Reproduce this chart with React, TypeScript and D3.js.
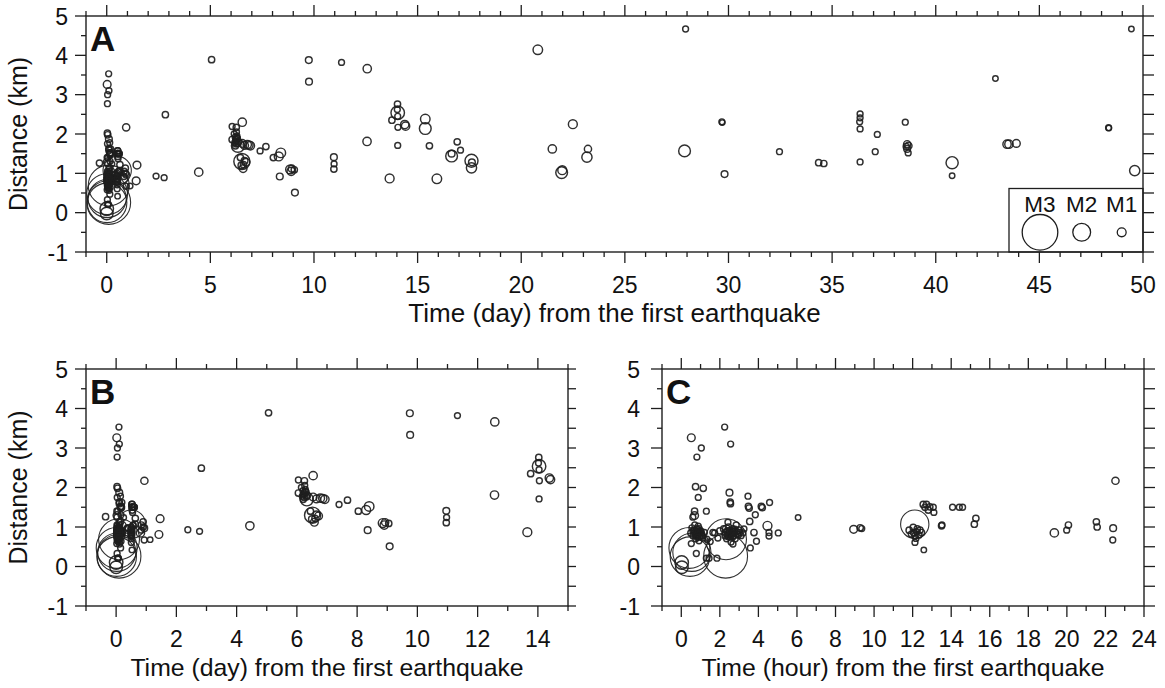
import React from 'react';
import * as d3 from 'd3';

// Events during the first 24 hours: time (hour), distance (km), magnitude
const firstDayHours = [
  0.42, 0.55, 0.45, 2.32, 2.30,
  0.02, 0.03,
  0.52, 1.04, 0.81, 2.25, 2.56, 0.74, 1.14, 0.88, 0.69, 0.69, 0.60, 1.30,
  2.50, 2.54, 2.55, 3.46, 3.48, 3.52, 4.15, 4.20, 4.58, 3.84, 3.55, 4.47,
  4.55, 4.55, 5.03, 3.77, 3.90, 3.58, 6.06, 8.94, 9.28, 9.36,
  0.50, 0.55, 0.62, 0.65, 0.70, 0.72, 0.75, 0.80, 0.80, 0.85, 0.88, 0.90,
  0.92, 0.95, 1.00, 1.05, 1.12, 1.20,
  0.68, 0.78, 0.86, 0.97, 1.08, 0.60, 0.74, 0.83, 0.93, 1.02,
  0.52, 0.78, 1.30, 1.44, 1.85, 1.33, 1.64, 1.50, 1.73,
  1.90, 2.00, 2.20, 2.30, 2.34, 2.35, 2.40, 2.42, 2.45, 2.50, 2.55, 2.58,
  2.60, 2.65, 2.68, 2.70, 2.75, 2.80, 2.85, 2.90, 3.00, 3.10, 3.20, 3.25,
  2.28, 2.38, 2.47, 2.53, 2.62, 2.72, 2.78, 2.88, 2.95, 3.05, 2.44, 2.66,
  11.82, 12.03, 12.11, 12.24, 12.46, 12.12, 12.17, 12.12, 11.94, 12.32, 12.58,
  12.05, 12.20, 12.38,
  12.55, 12.72, 12.89, 13.07, 13.10, 12.81, 12.64,
  13.50, 13.52, 14.07, 14.42, 14.59, 15.28, 15.20,
  19.35, 19.99, 20.08, 21.53, 21.57, 22.40, 22.38, 22.52,
];
const firstDayDist = [
  0.47, 0.36, 0.25, 0.69, 0.26,
  0.10, -0.02,
  3.26, 3.00, 2.77, 3.53, 3.10, 2.02, 1.98, 1.75, 1.40, 1.29, 1.25, 1.40,
  1.87, 1.63, 1.59, 1.78, 1.52, 1.48, 1.52, 1.49, 1.62, 1.31, 1.14, 1.03,
  0.86, 0.77, 0.85, 0.86, 0.64, 0.47, 1.24, 0.94, 0.98, 0.96,
  0.85, 0.98, 0.78, 0.92, 1.05, 0.85, 0.70, 0.95, 0.78, 0.80, 1.02, 0.88,
  0.65, 0.75, 0.90, 0.82, 0.72, 0.86,
  0.88, 0.86, 0.92, 0.84, 0.78, 0.90, 0.80, 0.74, 0.96, 0.88,
  0.58, 0.33, 0.21, 0.21, 0.21, 0.69, 0.86, 0.63, 0.85,
  0.72, 0.90, 0.95, 0.85, 0.95, 0.70, 0.80, 1.12, 1.00, 0.90, 0.75, 0.62,
  0.85, 0.95, 0.57, 0.78, 0.88, 0.70, 1.05, 0.82, 0.92, 0.78, 0.85, 0.95,
  0.78, 0.90, 0.84, 0.80, 0.90, 0.84, 0.94, 0.88, 0.80, 0.86, 0.76, 0.74,
  0.92, 0.99, 1.07, 0.95, 0.86, 0.78, 0.71, 0.61, 0.82, 0.80, 0.42,
  0.86, 0.88, 0.92,
  1.57, 1.57, 1.51, 1.50, 1.37, 1.43, 1.50,
  1.03, 1.05, 1.50, 1.50, 1.50, 1.22, 1.07,
  0.85, 0.92, 1.05, 1.13, 1.00, 0.97, 0.67, 2.17,
];
const firstDayMag = [
  3.2, 3.1, 3.15, 3.2, 3.3,
  1.6, 1.5,
  0.8, 0.4, 0.4, 0.4, 0.4, 0.5, 0.5, 0.4, 0.5, 0.8, 0.4, 0.4,
  0.6, 0.5, 0.5, 0.4, 0.5, 0.5, 0.5, 0.5, 0.4, 0.4, 0.5, 1.0,
  0.4, 0.4, 0.4, 0.5, 0.4, 0.4, 0.3, 0.8, 0.5, 0.4,
  0.5, 0.4, 0.5, 0.4, 0.4, 0.5, 0.4, 0.5, 0.4, 0.5, 0.4, 0.5,
  0.4, 0.5, 0.4, 0.5, 0.4, 0.4,
  0.5, 0.4, 0.5, 0.4, 0.5, 0.4, 0.5, 0.4, 0.4, 0.5,
  0.4, 0.4, 0.4, 0.4, 0.4, 0.4, 0.4, 0.4, 0.4,
  0.4, 0.5, 0.5, 0.6, 0.8, 0.4, 0.5, 0.4, 0.5, 0.6, 0.5, 0.4,
  0.6, 0.5, 0.4, 0.5, 0.5, 0.4, 0.4, 0.5, 0.5, 0.4, 0.4, 0.4,
  0.5, 0.4, 0.5, 0.4, 0.5, 0.4, 0.5, 0.4, 0.5, 0.4, 0.5, 0.4,
  0.5, 0.5, 2.67, 0.5, 0.5, 0.5, 0.4, 0.4, 0.5, 0.5, 0.3,
  0.5, 0.4, 0.5,
  0.5, 0.5, 0.5, 0.4, 0.4, 0.5, 0.5,
  0.5, 0.4, 0.4, 0.4, 0.4, 0.5, 0.5,
  0.9, 0.4, 0.5, 0.5, 0.5, 0.6, 0.4, 0.7,
];

// Remaining events of the sequence: time (day), distance (km), magnitude
const laterDays = [
  -0.35, 1.13, 1.42, 1.46, 2.38, 2.77, 2.83, 4.44, 5.06,
  6.05, 6.25, 6.54, 6.05, 6.15, 6.20, 6.22, 6.25, 6.28, 6.30, 6.18, 6.35, 6.26,
  6.24, 6.32, 6.21, 6.29,
  6.33, 6.54, 6.65, 6.78, 6.86, 6.93, 6.52, 6.50, 6.58, 6.65, 6.72, 6.45, 6.60,
  7.40, 7.68, 8.04, 8.30, 8.40, 8.35, 8.85, 8.90, 8.93, 9.05, 9.08,
  9.75, 9.76, 10.96, 10.97, 10.96, 11.33, 12.57, 12.56, 13.65,
  13.76, 14.03, 14.04, 14.02, 14.04, 14.05, 14.38, 14.42, 14.04,
  15.37, 15.37, 15.57, 15.93, 16.64, 16.64, 16.91, 17.07, 17.60, 17.62, 17.60,
  20.80, 21.50, 21.95, 21.98, 22.49, 23.22, 23.17,
  27.93, 27.88, 29.68, 29.70, 29.81, 32.46, 34.35, 34.60,
  36.35, 36.35, 36.33, 36.35, 36.35, 37.18, 37.08, 38.53,
  38.62, 38.68, 38.62, 38.67, 38.58, 40.79, 40.79, 42.88,
  43.44, 43.53, 43.89, 48.34, 48.35, 49.44, 49.60,
];
const laterDist = [
  1.26, 0.68, 0.81, 1.21, 0.93, 0.89, 2.49, 1.03, 3.89,
  2.19, 2.17, 2.30, 1.86, 2.00, 1.92, 1.82, 1.75, 1.95, 1.88, 1.78, 1.80, 2.05,
  1.85, 1.76, 1.70, 1.90,
  1.70, 1.76, 1.71, 1.73, 1.72, 1.70, 1.30, 1.20, 1.12, 1.32, 1.28, 1.40, 1.22,
  1.57, 1.68, 1.40, 1.43, 1.52, 0.92, 1.10, 1.05, 1.12, 1.09, 0.51,
  3.88, 3.33, 1.41, 1.24, 1.11, 3.82, 3.66, 1.81, 0.87,
  2.35, 2.76, 2.54, 2.62, 2.45, 2.17, 2.24, 2.20, 1.71,
  2.38, 2.14, 1.70, 0.86, 1.44, 1.50, 1.80, 1.59, 1.32, 1.28, 1.14,
  4.14, 1.62, 1.02, 1.08, 2.25, 1.62, 1.41,
  4.67, 1.57, 2.31, 2.29, 0.98, 1.55, 1.27, 1.25,
  2.51, 2.41, 2.31, 2.13, 1.29, 1.99, 1.55, 2.30,
  1.74, 1.70, 1.62, 1.52, 1.68, 1.27, 0.94, 3.41,
  1.74, 1.74, 1.76, 2.16, 2.15, 4.67, 1.07,
];
const laterMag = [
  0.5, 0.3, 0.8, 0.8, 0.4, 0.4, 0.5, 0.9, 0.5,
  0.4, 0.5, 0.9, 0.5, 0.4, 0.4, 0.5, 0.5, 0.4, 0.5, 0.4, 0.5, 0.4,
  0.5, 0.4, 0.5, 0.4,
  1.55, 0.8, 0.8, 0.9, 0.9, 0.9, 1.85, 0.6, 0.8, 0.6, 0.8, 0.5, 0.5,
  0.4, 0.5, 0.5, 1.0, 1.1, 0.6, 1.0, 0.9, 0.7, 0.5, 0.6,
  0.6, 0.6, 0.6, 0.4, 0.5, 0.4, 0.9, 0.9, 1.0,
  0.5, 0.5, 1.6, 0.4, 0.4, 0.4, 0.9, 0.9, 0.4,
  1.1, 1.4, 0.5, 1.1, 1.4, 0.6, 0.5, 0.4, 1.55, 0.6, 1.2,
  1.1, 0.9, 1.4, 1.0, 1.0, 0.7, 1.2,
  0.4, 1.4, 0.4, 0.3, 0.6, 0.4, 0.5, 0.5,
  0.4, 0.4, 0.4, 0.4, 0.4, 0.4, 0.4, 0.4,
  0.7, 0.7, 0.6, 0.4, 0.5, 1.45, 0.3, 0.3,
  0.9, 0.9, 0.8, 0.4, 0.3, 0.3, 1.2,
];

const distanceTicks = [-1, 0, 1, 2, 3, 4, 5];
const legendMags = [3, 2, 1];

const FONT = '"Liberation Sans", Arial, Helvetica, sans-serif';
const INK = '#1e1e1e';

type Quake = { t: number; d: number; m: number };

const radius = (m: number) => 4.45 * Math.pow(2, m - 1);

type PanelCfg = {
  id: string;
  left: number; right: number; top: number; bottom: number;
  xDomain: [number, number];
  major: number;
  unit: 'day' | 'hour';
  yLabelGap: number;
  rightTick: number;
  yTitle: boolean;
  legend: boolean;
  titleSize: number;
};

const panels: PanelCfg[] = [
  { id: 'A', left: 86, right: 1143, top: 16, bottom: 252, xDomain: [-1, 50], major: 5, unit: 'day', yLabelGap: 18, rightTick: 11, yTitle: true, legend: true, titleSize: 26 },
  { id: 'B', left: 86, right: 568, top: 369, bottom: 606, xDomain: [-1, 15], major: 2, unit: 'day', yLabelGap: 18, rightTick: 8, yTitle: true, legend: false, titleSize: 24.8 },
  { id: 'C', left: 662, right: 1144, top: 369, bottom: 606, xDomain: [-1, 24], major: 2, unit: 'hour', yLabelGap: 22, rightTick: 11, yTitle: false, legend: false, titleSize: 24.8 },
];

function quakesFor(unit: 'day' | 'hour'): Quake[] {
  const early = firstDayHours.map((h, i) => ({
    t: unit === 'day' ? h / 24 : h, d: firstDayDist[i], m: firstDayMag[i],
  }));
  const late = laterDays.map((t, i) => ({
    t: unit === 'day' ? t : t * 24, d: laterDist[i], m: laterMag[i],
  }));
  // larger events first so small ones stay visible on top
  return [...early, ...late].sort((a, b) => b.m - a.m);
}

function Panel({ cfg }: { cfg: PanelCfg }) {
  const x = d3.scaleLinear().domain(cfg.xDomain).range([cfg.left, cfg.right]);
  const y = d3.scaleLinear().domain([-1, 5]).range([cfg.bottom, cfg.top]);
  const [x0, x1] = cfg.xDomain;
  const majorX = d3.range(0, x1 + 1e-6, cfg.major);
  const minorX = d3.range(x0, x1 + 1e-6, 1).filter((v) => !majorX.some((m) => Math.abs(m - v) < 1e-6));
  const minorY = d3.range(-0.5, 5, 1);
  const allY = d3.range(-1, 5.0001, 0.5);
  const quakes = quakesFor(cfg.unit).filter((q) => q.t >= x0 && q.t <= x1 + 0.3);
  const clipId = `clip-${cfg.id}`;
  const majorLen = 11;
  const minorLen = 5;
  const title = cfg.unit === 'day' ? 'Time (day) from the first earthquake' : 'Time (hour) from the first earthquake';
  const cx = (cfg.left + cfg.right) / 2;
  const cy = (cfg.top + cfg.bottom) / 2;

  const legendX = d3.scaleOrdinal<number, number>().domain(legendMags).range([1040, 1081.7, 1121.7]);

  return (
    <g>
      <defs>
        <clipPath id={clipId}>
          <rect x={cfg.left} y={cfg.top} width={cfg.right - cfg.left} height={cfg.bottom - cfg.top} />
        </clipPath>
      </defs>

      <g clipPath={`url(#${clipId})`} fill="none" stroke={INK} strokeWidth={1.45} strokeOpacity={0.92}>
        {quakes.map((q, i) => (
          <circle key={i} cx={x(q.t)} cy={y(q.d)} r={radius(q.m)} strokeWidth={q.m > 2.5 ? 1.1 : 1.45} />
        ))}
      </g>

      {cfg.legend && (
        <g>
          <rect x={1009} y={188.5} width={cfg.right - 1009} height={cfg.bottom - 188.5} fill="#fff" stroke={INK} strokeWidth={1.3} />
          {legendMags.map((m) => (
            <g key={m}>
              <text x={legendX(m)} y={212} textAnchor="middle" fontSize={22.5} fontFamily={FONT} fill="#111">{`M${m}`}</text>
              <circle cx={legendX(m)} cy={232.3} r={radius(m)} fill="none" stroke={INK} strokeWidth={1.3} />
            </g>
          ))}
        </g>
      )}

      {/* frame */}
      <rect x={cfg.left} y={cfg.top} width={cfg.right - cfg.left} height={cfg.bottom - cfg.top} fill="none" stroke={INK} strokeWidth={1.4} />

      <g stroke={INK} strokeWidth={1.3}>
        {majorX.map((v) => (
          <g key={`mx${v}`}>
            <line x1={x(v)} x2={x(v)} y1={cfg.bottom} y2={cfg.bottom + majorLen} />
            <line x1={x(v)} x2={x(v)} y1={cfg.top} y2={cfg.top - majorLen} />
          </g>
        ))}
        {minorX.map((v) => (
          <g key={`nx${v}`}>
            <line x1={x(v)} x2={x(v)} y1={cfg.bottom} y2={cfg.bottom + minorLen} />
            <line x1={x(v)} x2={x(v)} y1={cfg.top} y2={cfg.top - minorLen} />
          </g>
        ))}
        {distanceTicks.map((v) => (
          <line key={`my${v}`} x1={cfg.left} x2={cfg.left - majorLen} y1={y(v)} y2={y(v)} />
        ))}
        {minorY.map((v) => (
          <line key={`ny${v}`} x1={cfg.left} x2={cfg.left - minorLen} y1={y(v)} y2={y(v)} />
        ))}
        {allY.map((v) => (
          <line key={`ry${v}`} x1={cfg.right} x2={cfg.right + cfg.rightTick} y1={y(v)} y2={y(v)} />
        ))}
      </g>

      <g fontFamily={FONT} fontSize={23} fill="#111">
        {majorX.map((v) => (
          <text key={`lx${v}`} x={x(v)} y={cfg.bottom + 41} textAnchor="middle">{String(v)}</text>
        ))}
        {distanceTicks.map((v) => (
          <text key={`ly${v}`} x={cfg.left - cfg.yLabelGap} y={y(v) + 8.5} textAnchor="end">{String(v)}</text>
        ))}
      </g>

      <text x={cx} y={cfg.bottom + 70} textAnchor="middle" fontFamily={FONT} fontSize={cfg.titleSize} fill="#111">{title}</text>
      {cfg.yTitle && (
        <text transform={`translate(27,${cy}) rotate(-90)`} textAnchor="middle" fontFamily={FONT} fontSize={25} fill="#111">Distance (km)</text>
      )}
      <text x={cfg.left + 4} y={cfg.top + 35} fontFamily={FONT} fontWeight="bold" fontSize={35} fill="#111">{cfg.id}</text>
    </g>
  );
}

export default function App() {
  return (
    <svg width={1165} height={688} style={{ position: 'absolute', left: 0, top: 0, background: '#fff' }}>
      <rect width={1165} height={688} fill="#fff" />
      {panels.map((p) => (
        <Panel key={p.id} cfg={p} />
      ))}
    </svg>
  );
}
